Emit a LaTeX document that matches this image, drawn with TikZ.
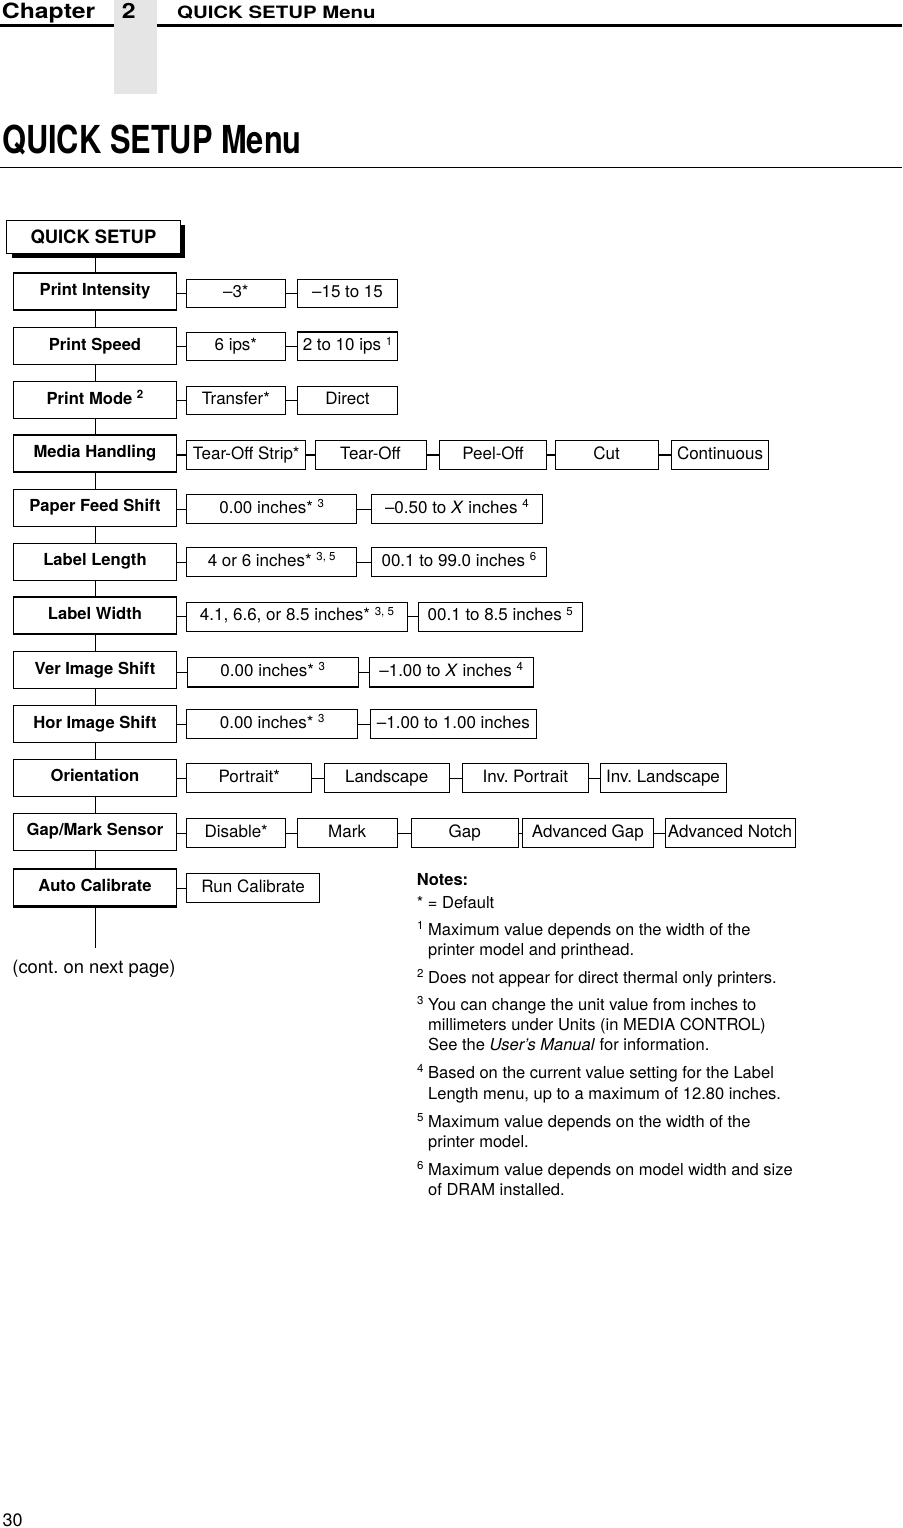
\documentclass[tikz,border=0pt]{standalone}
\usepackage{fontspec}
\setmainfont{TeX Gyre Heros}
\usepackage{graphicx}
\usetikzlibrary{shadows}
\frenchspacing
\newcommand\supr[1]{\raisebox{5.5pt}{\fontsize{11.5}{12}\selectfont #1}}
\newcommand\vb[5]{\node[vbox, minimum width={#3-#2}] (#1) at ({(#2+#3)/2},#4) {#5};}
\newcommand\lb[3]{\node[lbox] (#1) at (95,#2) {#3};}
\tikzset{
  lbox/.style={draw, line width=1.1pt, fill=white, minimum width=163.4pt, minimum height=37pt,
    inner sep=0pt, font=\fontsize{16.6}{18}\selectfont\bfseries, text height=12pt, text depth=4pt},
  vbox/.style={draw, line width=1pt, fill=white, minimum height=28.5pt, inner sep=0pt,
    font=\fontsize{17}{19}\selectfont, text height=12.5pt, text depth=4.5pt},
  conn/.style={line width=1pt},
  thickconn/.style={line width=2pt},
  note/.style={anchor=base west, inner sep=0pt, font=\fontsize{16.5}{18}\selectfont},
  nsup/.style={anchor=base west, inner sep=0pt, font=\fontsize{11.5}{12}\selectfont},
  hdr/.style={anchor=base west, inner sep=0pt},
}
\begin{document}
\frenchspacing
\begin{tikzpicture}[x=1pt,y=-1pt]
\useasboundingbox (0,0) rectangle (902,1528);
% header
\fill[black!10] (114.3,0) rectangle (156.7,94);
\coordinate (hl1) at (0,25.3);
\coordinate (hl2) at (114.3,25.3);
\coordinate (hl3) at (156.7,25.3);
\coordinate (hl4) at (902,25.3);
\draw[line width=2.5pt] (hl1) -- (hl2);
\draw[line width=2.5pt] (hl3) -- (hl4);
\node[hdr] (chap) at (1.7,19) {\scalebox{1.18}[1]{\fontsize{21}{22}\selectfont\bfseries Chapter}};
\node[hdr] (chnum) at (121.7,19) {\scalebox{1.18}[1]{\fontsize{21}{22}\selectfont\bfseries 2}};
\node[hdr] (htitle) at (177,19) {\scalebox{1.2}[1]{\fontsize{17}{18}\selectfont\bfseries QUICK SETUP Menu}};
% title
\node[hdr] (title) at (2,153.3) {\scalebox{0.8}[1]{\fontsize{38.5}{40}\selectfont\bfseries QUICK SETUP Menu}};
\coordinate (tl1) at (0,167.7);
\coordinate (tl2) at (902,167.7);
\draw[line width=1.2pt] (tl1) -- (tl2);
% root
\node[draw, line width=1.1pt, fill=white, minimum width=173.3pt, minimum height=33.3pt, inner sep=0pt,
  font=\fontsize{18.4}{20}\selectfont\bfseries, text height=13.3pt, text depth=0pt,
  drop shadow={shadow xshift=5pt, shadow yshift=-5pt, fill=black, opacity=1}]
  (qs) at (93.4,236.7) {QUICK SETUP};
% left column
\lb{pi}{291.5}{Print Intensity}
\lb{ps}{346}{Print Speed}
\lb{pm}{400}{Print Mode \supr{2}}
\lb{mh}{453.5}{Media Handling}
\lb{pfs}{507.7}{Paper Feed Shift}
\lb{ll}{561.7}{Label Length}
\lb{lw}{615.5}{Label Width}
\lb{vis}{670}{Ver Image Shift}
\lb{his}{724}{Hor Image Shift}
\lb{ori}{777.8}{Orientation}
\lb{gms}{831.7}{Gap/Mark Sensor}
\lb{ac}{887.5}{Auto Calibrate}
\draw[line width=2.2pt] (ac.south west) -- (ac.south east);
\coordinate (tbot) at (95,948);
\draw[conn] (pi.north |- qs.south) -- (pi.north);
\draw[conn] (pi) -- (ps);
\draw[conn] (ps) -- (pm);
\draw[conn] (pm) -- (mh);
\draw[conn] (mh) -- (pfs);
\draw[conn] (pfs) -- (ll);
\draw[conn] (ll) -- (lw);
\draw[conn] (lw) -- (vis);
\draw[conn] (vis) -- (his);
\draw[conn] (his) -- (ori);
\draw[conn] (ori) -- (gms);
\draw[conn] (gms) -- (ac);
\draw[conn] (ac) -- (tbot);
\node[inner sep=0pt, anchor=base, font=\fontsize{18.4}{20}\selectfont] (cont) at (94,973) {(cont. on next page)};
% values
\vb{pi1}{186.7}{285}{293.3}{–3*}
\vb{pi2}{297.3}{397.7}{293.3}{–15 to 15}
\vb{ps1}{186.7}{285}{346.5}{6 ips*}
\vb{ps2}{297.3}{397.7}{346.5}{2 to 10 ips \supr{1}}
\draw[line width=2pt] (ps2.north west) -- (ps2.north east);
\vb{pm1}{186.7}{285}{400.5}{Transfer*}
\vb{pm2}{297.3}{397.7}{400.5}{Direct}
\vb{mh1}{186.7}{305.7}{455}{Tear-Off Strip*}
\vb{mh2}{315}{426}{455}{Tear-Off}
\vb{mh3}{439.3}{546.7}{455}{Peel-Off}
\vb{mh4}{555}{658.3}{455}{Cut}
\vb{mh5}{671.7}{768.3}{455}{Continuous}
\vb{pfs1}{186.7}{356.7}{509}{0.00 inches* \supr{3}}
\vb{pfs2}{371}{542.7}{509}{–0.50 to \textit{X} inches \supr{4}}
\vb{ll1}{186.7}{356.7}{562}{4 or 6 inches* \supr{3, 5}}
\vb{ll2}{371}{546.7}{562}{00.1 to 99.0 inches \supr{6}}
\vb{lw1}{186.7}{407.3}{616.8}{4.1, 6.6, or 8.5 inches* \supr{3, 5}}
\vb{lw2}{418.3}{582.3}{616.8}{00.1 to 8.5 inches \supr{5}}
\vb{vis1}{187.3}{358.3}{672}{0.00 inches* \supr{3}}
\vb{vis2}{369}{533.3}{672}{–1.00 to \textit{X} inches \supr{4}}
\draw[line width=2.2pt] (vis1.south west) -- (vis1.south east);
\draw[line width=2.2pt] (vis2.south west) -- (vis2.south east);
\vb{his1}{186.7}{357.7}{724}{0.00 inches* \supr{3}}
\vb{his2}{370}{536.7}{724}{–1.00 to 1.00 inches}
\vb{ori1}{186.7}{311.7}{778}{Portrait*}
\vb{ori2}{324}{449.3}{778}{Landscape}
\vb{ori3}{462.3}{588.3}{778}{Inv. Portrait}
\vb{ori4}{600}{726}{778}{Inv. Landscape}
\vb{gms1}{186.7}{285.7}{833}{Disable*}
\vb{gms2}{297}{397.3}{833}{Mark}
\vb{gms3}{411}{518.3}{833}{Gap}
\vb{gms4}{522.7}{653}{833}{Advanced Gap}
\vb{gms5}{665}{795}{833}{Advanced Notch}
\vb{ac1}{186.7}{319.3}{888}{Run Calibrate}
% connectors
\draw[conn] (pi.east |- pi1.west) -- (pi1.west);
\draw[conn] (pi1.east) -- (pi2.west);
\draw[conn] (ps.east |- ps1.west) -- (ps1.west);
\draw[conn] (ps1.east) -- (ps2.west);
\draw[conn] (pm.east |- pm1.west) -- (pm1.west);
\draw[conn] (pm1.east) -- (pm2.west);
\draw[thickconn] (mh.east |- mh1.west) -- (mh1.west);
\draw[thickconn] (mh1.east) -- (mh2.west);
\draw[thickconn] (mh2.east) -- (mh3.west);
\draw[thickconn] (mh3.east) -- (mh4.west);
\draw[thickconn] (mh4.east) -- (mh5.west);
\draw[conn] (pfs.east |- pfs1.west) -- (pfs1.west);
\draw[conn] (pfs1.east) -- (pfs2.west);
\draw[conn] (ll.east |- ll1.west) -- (ll1.west);
\draw[conn] (ll1.east) -- (ll2.west);
\draw[conn] (lw.east |- lw1.west) -- (lw1.west);
\draw[conn] (lw1.east) -- (lw2.west);
\draw[conn] (vis.east |- vis1.west) -- (vis1.west);
\draw[conn] (vis1.east) -- (vis2.west);
\draw[conn] (his.east |- his1.west) -- (his1.west);
\draw[conn] (his1.east) -- (his2.west);
\draw[conn] (ori.east |- ori1.west) -- (ori1.west);
\draw[conn] (ori1.east) -- (ori2.west);
\draw[conn] (ori2.east) -- (ori3.west);
\draw[conn] (ori3.east) -- (ori4.west);
\draw[conn] (gms.east |- gms1.west) -- (gms1.west);
\draw[conn] (gms1.east) -- (gms2.west);
\draw[conn] (gms2.east) -- (gms3.west);
\draw[conn] (gms3.east) -- (gms4.west);
\draw[conn] (gms4.east) -- (gms5.west);
\draw[conn] (ac.east |- ac1.west) -- (ac1.west);
% notes
\node[note] (n0) at (416.7,885) {\bfseries Notes:};
\node[note] (n1) at (416.7,908.3) {* = Default};
\node[nsup] (s1) at (417,929.5) {1};
\node[note] (n2) at (428,935) {Maximum value depends on the width of the};
\node[note] (n3) at (428,955) {printer model and printhead.};
\node[nsup] (s2) at (417,977.8) {2};
\node[note] (n4) at (428,983.3) {Does not appear for direct thermal only printers.};
\node[nsup] (s3) at (417,1004.5) {3};
\node[note] (n5) at (428,1010) {You can change the unit value from inches to};
\node[note] (n6) at (428,1030.7) {millimeters under Units (in MEDIA CONTROL)};
\node[note] (n7) at (428,1050.7) {See the \textit{User’s Manual} for information.};
\node[nsup] (s4) at (417,1072.8) {4};
\node[note] (n8) at (428,1078.3) {Based on the current value setting for the Label};
\node[note] (n9) at (428,1099.3) {Length menu, up to a maximum of 12.80 inches.};
\node[nsup] (s5) at (417,1121.8) {5};
\node[note] (n10) at (428,1127.3) {Maximum value depends on the width of the};
\node[note] (n11) at (428,1147.3) {printer model.};
\node[nsup] (s6) at (417,1169.5) {6};
\node[note] (n12) at (428,1175) {Maximum value depends on model width and size};
\node[note] (n13) at (428,1195) {of DRAM installed.};
% page number
\node[hdr, font=\fontsize{18}{20}\selectfont] (pg) at (2.5,1526.7) {30};
\end{tikzpicture}
\end{document}
